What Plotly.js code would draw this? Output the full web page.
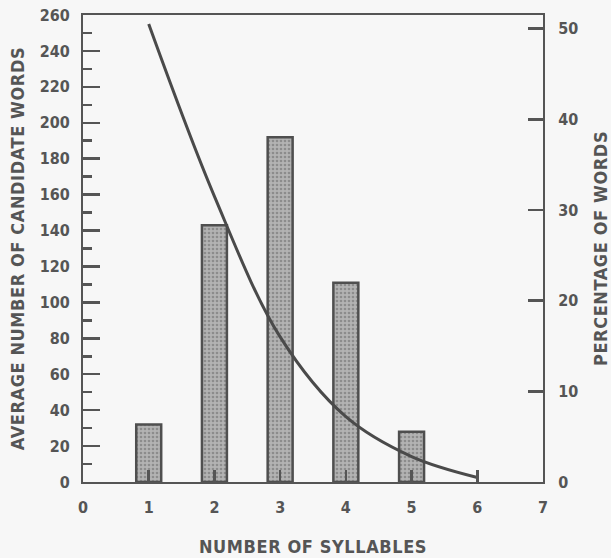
<!DOCTYPE html>
<html>
<head>
<meta charset="utf-8">
<script src="https://cdn.plot.ly/plotly-3.0.1.min.js"></script>
<style>
  html, body { margin: 0; padding: 0; background: #f7f7f7; }
  #chart { width: 611px; height: 558px; }
  .g-xtitle text, .g-ytitle text, .annotation-text { letter-spacing: 0.6px; }
</style>
</head>
<body>
<div id="chart"></div>
<script>
// Syllable counts on the x axis
const syllables = [1, 2, 3, 4, 5];
// Average number of candidate words per syllable count (bars, left axis)
const candidateWords = [32, 143, 192, 111, 28];

// Percentage of words by syllable count (curve, right axis)
const curveSyllables = [1, 2, 3, 4, 5, 6];
const percentWords = [50.5, 31.5, 16.0, 7.2, 2.8, 0.5];

const rightTitle = 'PERCENTAGE OF WORDS';

const ink = '#555555';
const family = 'DejaVu Sans Condensed, DejaVu Sans, Arial, sans-serif';
const tickFont = { family: family, size: 16, weight: 'bold', color: ink };
const titleFont = { family: family, size: 18, weight: 'bold', color: ink };

const bars = {
  type: 'bar',
  x: syllables,
  y: candidateWords,
  width: 0.38,
  marker: {
    color: '#a9a9a9',
    line: { color: '#4f4f4f', width: 2.5 },
    pattern: { shape: '.', fgcolor: '#8c8c8c', bgcolor: '#b3b3b3', size: 4, solidity: 0.35 }
  },
  hoverinfo: 'skip'
};

const curve = {
  type: 'scatter',
  mode: 'lines',
  x: curveSyllables,
  y: percentWords,
  yaxis: 'y2',
  line: { color: '#4a4a4a', width: 3, shape: 'spline', smoothing: 1 },
  hoverinfo: 'skip'
};

const layout = {
  width: 611,
  height: 558,
  margin: { l: 83, r: 68, t: 15, b: 76 },
  paper_bgcolor: '#f7f7f7',
  plot_bgcolor: '#f7f7f7',
  showlegend: false,
  font: { family: family, color: ink },
  xaxis: {
    range: [0, 7],
    tickmode: 'linear', tick0: 0, dtick: 1,
    ticks: 'inside', ticklen: 12, tickwidth: 2.5, tickcolor: ink,
    showline: true, linecolor: ink, linewidth: 2, mirror: true,
    showgrid: false, zeroline: false,
    tickfont: tickFont,
    ticklabelstandoff: 10,
    title: { text: 'NUMBER OF SYLLABLES', font: titleFont, standoff: 24 }
  },
  yaxis: {
    range: [0, 260],
    tickmode: 'linear', tick0: 0, dtick: 20,
    ticks: 'inside', ticklen: 17, tickwidth: 2.5, tickcolor: ink,
    minor: { dtick: 10, ticks: 'inside', ticklen: 9, tickwidth: 2.5, tickcolor: ink },
    showline: true, linecolor: ink, linewidth: 2,
    showgrid: false, zeroline: false,
    tickfont: tickFont,
    ticklabelstandoff: 8,
    title: { text: 'AVERAGE NUMBER OF CANDIDATE WORDS', font: titleFont, standoff: 10 }
  },
  yaxis2: {
    overlaying: 'y',
    side: 'right',
    range: [0, 51.5],
    tickmode: 'linear', tick0: 0, dtick: 10,
    ticks: 'inside', ticklen: 15, tickwidth: 2.5, tickcolor: ink,
    showline: true, linecolor: ink, linewidth: 2,
    showgrid: false, zeroline: false,
    tickfont: tickFont,
    ticklabelstandoff: 10
  },
  // right-axis title pushed against the right page edge
  annotations: [{
    text: rightTitle,
    xref: 'paper', yref: 'paper',
    x: 1.1522, y: 0.5,
    xanchor: 'right', yanchor: 'middle',
    textangle: -90,
    showarrow: false,
    font: titleFont
  }]
};

Plotly.newPlot('chart', [bars, curve], layout, { staticPlot: true, displayModeBar: false });
</script>
</body>
</html>
